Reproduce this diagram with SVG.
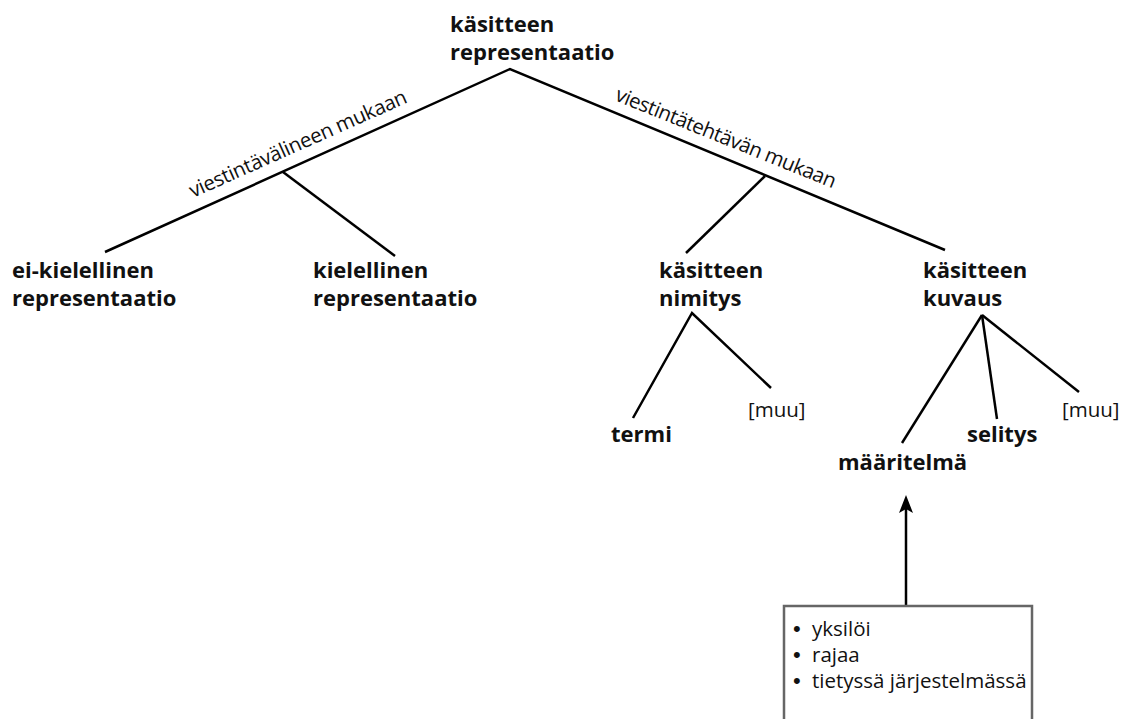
<svg xmlns="http://www.w3.org/2000/svg" width="1121" height="719" viewBox="0 0 1121 719">
<style>
.n{font-family:"Open Sans","Liberation Sans",sans-serif;font-weight:bold;font-size:22px;fill:#111}
.r{font-family:"Open Sans","Liberation Sans",sans-serif;font-size:20.5px;fill:#111}
.b{font-family:"Liberation Sans",sans-serif;font-size:22px}
.c{stroke:#000;stroke-width:2.5;fill:none}
</style>
<defs>
<marker id="ah" markerUnits="userSpaceOnUse" viewBox="0 0 18 14" refX="13" refY="7" markerWidth="18" markerHeight="14" orient="auto">
<path d="M0,0 L18,7 L0,14 L4,7 Z" fill="#000"/>
</marker>
</defs>
<rect width="1121" height="719" fill="#fff"/>
<g id="connectors">
<polyline class="c" points="105,252 510,69 945,250"/>
<line class="c" x1="283" y1="172" x2="395" y2="256"/>
<line class="c" x1="765" y1="176" x2="686" y2="253"/>
<polyline class="c" points="633,418 692,313 771,388"/>
<line class="c" x1="982" y1="315" x2="902" y2="443"/>
<line class="c" x1="982" y1="315" x2="997" y2="419"/>
<line class="c" x1="982" y1="315" x2="1079" y2="392"/>
<line class="c" x1="906" y1="606" x2="906" y2="500" marker-end="url(#ah)"/>
</g>
<g id="label-left"><text class="r" x="193" y="198" textLength="236" transform="rotate(-24 193 198)">viestintävälineen mukaan</text></g>
<g id="label-right"><text class="r" x="614" y="100" textLength="236" transform="rotate(22 614 100)">viestintätehtävän mukaan</text></g>
<g id="root"><text class="n" x="450" y="32">käsitteen</text><text class="n" x="450" y="59.5">representaatio</text></g>
<g id="ei-kielellinen"><text class="n" x="12" y="278">ei-kielellinen</text><text class="n" x="12" y="306">representaatio</text></g>
<g id="kielellinen"><text class="n" x="313" y="278">kielellinen</text><text class="n" x="313" y="306">representaatio</text></g>
<g id="nimitys"><text class="n" x="659" y="278">käsitteen</text><text class="n" x="659" y="306">nimitys</text></g>
<g id="kuvaus"><text class="n" x="923" y="278">käsitteen</text><text class="n" x="923" y="306">kuvaus</text></g>
<g id="termi"><text class="n" x="611" y="442">termi</text></g>
<g id="muu1"><text class="r" x="748" y="417">[muu]</text></g>
<g id="maaritelma"><text class="n" x="838" y="470">määritelmä</text></g>
<g id="selitys"><text class="n" x="967" y="442">selitys</text></g>
<g id="muu2"><text class="r" x="1062" y="417">[muu]</text></g>
<g id="box">
<rect x="784" y="606" width="248" height="200" fill="#fff" stroke="#666" stroke-width="2.5"/>
<text class="r" y="636"><tspan class="b" x="793">•</tspan><tspan x="812">yksilöi</tspan></text>
<text class="r" y="662"><tspan class="b" x="793">•</tspan><tspan x="812">rajaa</tspan></text>
<text class="r" y="688"><tspan class="b" x="793">•</tspan><tspan x="812">tietyssä järjestelmässä</tspan></text>
</g>
</svg>
